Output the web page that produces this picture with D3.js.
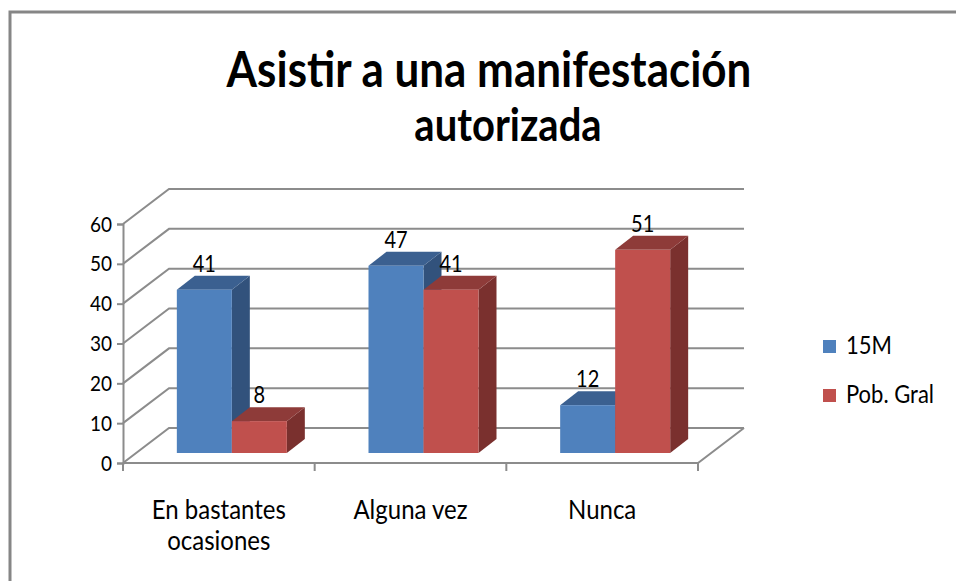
<!DOCTYPE html>
<html>
<head>
<meta charset="utf-8">
<script src="https://cdn.jsdelivr.net/npm/d3@7"></script>
<style>
  body { margin: 0; background: #fff; }
  svg { display: block; font-family: Lato, "Open Sans", sans-serif; }
</style>
</head>
<body>
<div id="chart"></div>
<script>
// data
var categories = [["En bastantes", "ocasiones"], ["Alguna vez"], ["Nunca"]],
    series = ["15M", "Pob. Gral"],
    values_15m = [41, 47, 12],
    values_gral = [8, 41, 51],
    y_ticks = [0, 10, 20, 30, 40, 50, 60];

var colors = {
  "15M":       {front: "#4f81bd", side: "#32527c", top: "#3b6090"},
  "Pob. Gral": {front: "#c0504d", side: "#7a302e", top: "#8e3b39"}
};

var width = 956, height = 581;
var stretch = 1.15;   // the original text is drawn a bit taller than wide

// front plane of the box
var plot = {left: 123, right: 698, bottom: 463, top: 224};
var depth = {dx: 46, dy: -35};       // front -> back wall
var bar_off = {dx: 13, dy: -10};     // front -> bar front face
var bar_depth = {dx: 18, dy: -14};   // bar thickness

var cat_names = categories.map(function(c) { return c.join(" "); });

var x = d3.scaleBand().domain(cat_names).range([plot.left, plot.right]),
    x_inner = d3.scaleBand().domain(series).range([-55, 55]),
    y = d3.scaleLinear().domain([0, 60]).range([plot.bottom, plot.top]);

var svg = d3.select("#chart").append("svg")
    .attr("width", width)
    .attr("height", height);

// text placed at (px, py) baseline, stretched vertically
function label(parent, px, py, txt, size, weight, anchor) {
  return parent.append("text")
      .attr("transform", "translate(" + px + "," + py + ") scale(1," + stretch + ")")
      .attr("text-anchor", anchor || "middle")
      .attr("font-size", size)
      .attr("font-weight", weight || "normal")
      .attr("fill", "#000")
      .text(txt);
}

// outer frame (runs past the window)
svg.append("rect")
    .attr("x", 10).attr("y", 12)
    .attr("width", 1000).attr("height", 700)
    .attr("fill", "none")
    .attr("stroke", "#868686")
    .attr("stroke-width", 3);

// title
label(svg, 489, 87, "Asistir a una manifestación", 44, "bold");
label(svg, 508, 141, "autorizada", 40, "bold");

var grid_color = "#8c8c8c";

// gridlines: side wall diagonals + back wall
var grid = svg.append("g").attr("stroke", grid_color).attr("stroke-width", 2).attr("fill", "none");
y_ticks.forEach(function(t) {
  grid.append("path")
      .attr("d", "M" + plot.left + "," + y(t) +
                 "L" + (plot.left + depth.dx) + "," + (y(t) + depth.dy) +
                 "L" + (plot.right + depth.dx) + "," + (y(t) + depth.dy));
});
// floor front edge + right edge
grid.append("path")
    .attr("d", "M" + plot.left + "," + plot.bottom +
               "L" + plot.right + "," + plot.bottom +
               "L" + (plot.right + depth.dx) + "," + (plot.bottom + depth.dy));

// y axis
var y_axis = d3.axisLeft(y).tickValues(y_ticks).tickSize(6).tickPadding(5);
var gy = svg.append("g")
    .attr("transform", "translate(" + plot.left + ",0)")
    .call(y_axis);
gy.select(".domain").attr("stroke", grid_color).attr("stroke-width", 2);
gy.selectAll(".tick line").attr("stroke", grid_color).attr("stroke-width", 2);
gy.selectAll(".tick text")
    .attr("font-family", "Lato, sans-serif")
    .attr("font-size", 19)
    .attr("fill", "#000")
    .attr("transform", "scale(1," + stretch + ")");

// x axis ticks at band edges
var x_edges = cat_names.map(function(c) { return x(c); }).concat([plot.right]);
svg.append("g").selectAll("line")
    .data(x_edges).join("line")
    .attr("x1", function(d) { return d; }).attr("x2", function(d) { return d; })
    .attr("y1", plot.bottom).attr("y2", plot.bottom + 8)
    .attr("stroke", grid_color).attr("stroke-width", 2);

// category labels
var cat_labels = svg.append("g");
categories.forEach(function(lines, i) {
  lines.forEach(function(line, j) {
    label(cat_labels, x(cat_names[i]) + x.bandwidth() / 2, 519 + j * 31, line, 24);
  });
});

// bars
var bar_data = [];
cat_names.forEach(function(c, i) {
  bar_data.push({cat: c, s: "15M", v: values_15m[i]});
  bar_data.push({cat: c, s: "Pob. Gral", v: values_gral[i]});
});

var bars = svg.append("g").selectAll("g")
    .data(bar_data).join("g");

function x0(d) { return x(d.cat) + x.bandwidth() / 2 + x_inner(d.s) + bar_off.dx; }
function x1(d) { return x0(d) + x_inner.bandwidth(); }
function yb(d) { return y(0) + bar_off.dy; }
function yt(d) { return y(d.v) + bar_off.dy; }

// side face
bars.append("path")
    .attr("fill", function(d) { return colors[d.s].side; })
    .attr("d", function(d) {
      return "M" + x1(d) + "," + yt(d) +
             "L" + (x1(d) + bar_depth.dx) + "," + (yt(d) + bar_depth.dy) +
             "L" + (x1(d) + bar_depth.dx) + "," + (yb(d) + bar_depth.dy) +
             "L" + x1(d) + "," + yb(d) + "Z";
    });
// top face
bars.append("path")
    .attr("fill", function(d) { return colors[d.s].top; })
    .attr("d", function(d) {
      return "M" + x0(d) + "," + yt(d) +
             "L" + (x0(d) + bar_depth.dx) + "," + (yt(d) + bar_depth.dy) +
             "L" + (x1(d) + bar_depth.dx) + "," + (yt(d) + bar_depth.dy) +
             "L" + x1(d) + "," + yt(d) + "Z";
    });
// front face
bars.append("rect")
    .attr("fill", function(d) { return colors[d.s].front; })
    .attr("x", x0)
    .attr("y", yt)
    .attr("width", x_inner.bandwidth())
    .attr("height", function(d) { return yb(d) - yt(d); });

// value labels
var value_labels = svg.append("g");
bar_data.forEach(function(d) {
  label(value_labels, (x0(d) + x1(d)) / 2, yt(d) + bar_depth.dy - 4, d.v, 20);
});

// legend
var legend = svg.append("g").selectAll("g")
    .data(series).join("g")
    .attr("transform", function(d, i) { return "translate(823," + (340 + i * 49) + ")"; });
legend.append("rect")
    .attr("width", 13).attr("height", 13)
    .attr("fill", function(d) { return colors[d].front; });
legend.each(function(d) {
  label(d3.select(this), 23, 14, d, 22, "normal", "start");
});
</script>
</body>
</html>
